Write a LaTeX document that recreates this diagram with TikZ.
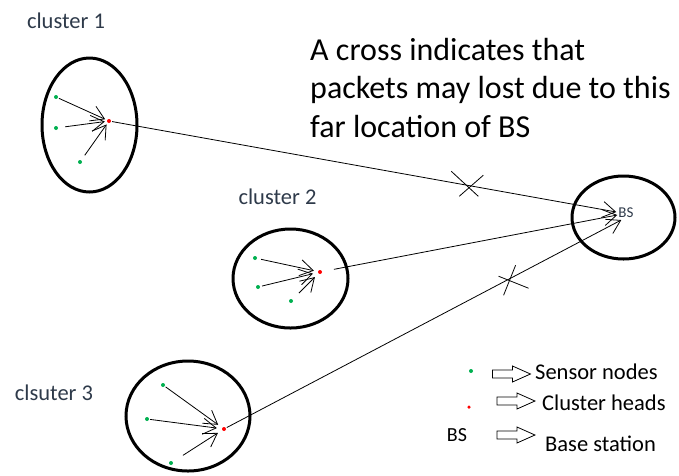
\documentclass[tikz,border=0pt]{standalone}
\usepackage{fontspec}
\setmainfont{Carlito}
\usetikzlibrary{arrows.meta,shapes.geometric,shapes.arrows}
\definecolor{sgreen}{HTML}{00B050}
\definecolor{labc}{HTML}{2E3A4A}
\begin{document}
\begin{tikzpicture}[x=1pt,y=-1pt,
  sn/.style={circle,fill=sgreen,inner sep=0pt,minimum size=4pt},
  ch/.style={circle,fill=red,inner sep=0pt,minimum size=4pt},
  clus/.style={draw,ellipse,line width=3pt,inner sep=0pt},
  link/.style={line width=0.8pt,-{Straight Barb[length=13pt,width=16pt,line width=0.8pt]}},
  lbl/.style={font=\fontsize{22.5}{26}\selectfont,text=labc,inner sep=0pt},
  leg/.style={font=\fontsize{22.5}{26}\selectfont,inner sep=0pt},
  big/.style={font=\fontsize{32}{38.5}\selectfont,inner sep=0pt,anchor=base west},
  hollow/.style={single arrow,draw,line width=0.8pt,inner sep=3.5pt,minimum height=38pt,
    single arrow head extend=4pt,single arrow tip angle=48,minimum width=16pt},
  crossl/.style={line width=0.8pt}]
\useasboundingbox (0,0) rectangle (679,475);

% cluster ellipses
\node[clus,minimum width=95pt,minimum height=134pt] (c1) at (89.5,125) {};
\node[clus,minimum width=115pt,minimum height=99pt] (c2) at (290.5,278.5) {};
\node[clus,minimum width=124pt,minimum height=110pt] (c3) at (188,416) {};
\node[clus,minimum width=103pt,minimum height=83pt] (bsell) at (623.5,217.5) {};

% base station text
\node[font=\fontsize{15}{17}\selectfont,text=labc,inner sep=0pt] (bs) at (626,213) {BS};

% cluster labels
\node[lbl] (l1) at (66,21) {cluster 1};
\node[lbl] (l2) at (277.5,197) {cluster 2};
\node[lbl] (l3) at (54,393) {clsuter 3};

% heads
\node[ch] (h1) at (109,121) {};
\node[ch] (h2) at (320,272) {};
\node[ch] (h3) at (224,429) {};

% sensors cluster 1
\node[sn] (s11) at (56,97) {};
\node[sn] (s12) at (56,128) {};
\node[sn] (s13) at (80,162) {};
% sensors cluster 2
\node[sn] (s21) at (255,258) {};
\node[sn] (s22) at (258,287) {};
\node[sn] (s23) at (291,301) {};
% sensors cluster 3
\node[sn] (s31) at (163,385) {};
\node[sn] (s32) at (147,419) {};
\node[sn] (s33) at (171,463) {};

% sensor to head links
\draw[link,shorten <=1pt,shorten >=2pt] (s11) -- (h1);
\draw[link,shorten <=7pt,shorten >=2pt] (s12) -- (h1);
\draw[link,shorten <=6pt,shorten >=2pt] (s13) -- (h1);
\draw[link,shorten <=4pt,shorten >=4pt] (s21) -- (h2);
\draw[link,shorten <=2pt,shorten >=5pt] (s22) -- (h2);
\draw[link,shorten <=9pt,shorten >=5pt] (s23) -- (h2);
\draw[link,shorten <=1pt,shorten >=5pt] (s31) -- (h3);
\draw[link,shorten <=1pt,shorten >=5pt] (s32) -- (h3);
\draw[link,shorten <=12pt,shorten >=5pt] (s33) -- (h3);

% head to BS links
\draw[link,shorten <=1pt] (h1) -- coordinate[pos=0.705] (x1) ([shift={(-2,-1)}]bs.west);
\draw[link,shorten <=12pt] (h2) -- ([shift={(-1,2)}]bs.west);
\draw[link,shorten <=1pt] (h3) -- coordinate[pos=0.72] (x2) ([shift={(3,7)}]bs.west);

% crosses
\draw[crossl] ([shift={(-16,-14)}]x1) -- ([shift={(11,11)}]x1);
\draw[crossl] ([shift={(-8,11)}]x1) -- ([shift={(16,-10)}]x1);
\draw[crossl] ([shift={(-7,17)}]x2) -- ([shift={(5,-13)}]x2);
\draw[crossl] ([shift={(-12,-2)}]x2) -- ([shift={(18,10)}]x2);

% explanation text
\node[big] (n1) at (310,60) {A cross indicates that};
\node[big] (n2) at (310,98.5) {packets may lost due to this};
\node[big] (n3) at (310,137) {far location of BS};

% legend
\node[sn] (lg1) at (471,371) {};
\node[ch,minimum size=3.5pt] (lg2) at (469,407) {};
\node[leg,font=\fontsize{20}{24}\selectfont] (lg3) at (457,435) {BS};
\node[hollow] (a1) at (507,374) {};
\node[hollow] (a2) at (511.5,401) {};
\node[hollow] (a3) at (511.5,435) {};
\node[leg,anchor=west] (t1) at (535,372) {Sensor nodes};
\node[leg,anchor=west] (t2) at (542,403) {Cluster heads};
\node[leg,anchor=west] (t3) at (545,444) {Base station};
\end{tikzpicture}
\end{document}
